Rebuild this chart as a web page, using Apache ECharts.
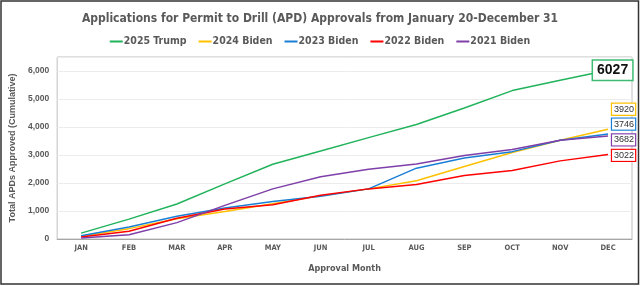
<!DOCTYPE html>
<html>
<head>
<meta charset="utf-8">
<script src="https://cdn.jsdelivr.net/npm/echarts@6/dist/echarts.min.js"></script>
<style>
  html, body { margin: 0; padding: 0; background: #fff; }
  #chart { width: 640px; height: 286px; }
</style>
</head>
<body>
<div id="chart"></div>
<script>
const months = ['JAN', 'FEB', 'MAR', 'APR', 'MAY', 'JUN', 'JUL', 'AUG', 'SEP', 'OCT', 'NOV', 'DEC']
const trump2025 = [210, 710, 1250, 1970, 2670, 3140, 3620, 4090, 4680, 5300, 5670, 6027]
const biden2024 = [95, 370, 720, 980, 1260, 1540, 1790, 2080, 2590, 3090, 3530, 3920]
const biden2023 = [120, 430, 810, 1110, 1340, 1530, 1790, 2530, 2890, 3120, 3530, 3746]
const biden2022 = [70, 280, 740, 1070, 1220, 1560, 1790, 1950, 2270, 2450, 2790, 3022]
const biden2021 = [35, 150, 585, 1200, 1790, 2220, 2490, 2680, 2980, 3200, 3530, 3682]

const condensed = "'DejaVu Sans Condensed', 'DejaVu Sans', sans-serif"
const arial = "'Liberation Sans', Arial, sans-serif"
const gray = '#595959'

// small boxed value at the end of each line
function endLabel(color, dy) {
  return {
    show: true,
    formatter: '{c}',
    distance: 4,
    offset: [0, dy],
    fontFamily: arial,
    fontSize: 9,
    lineHeight: 10,
    color: '#333',
    backgroundColor: '#fff',
    borderColor: color,
    borderWidth: 1.2,
    padding: [1, 1, 0, 2]
  }
}

function line(name, data, color, label) {
  return {
    name: name,
    type: 'line',
    data: data,
    symbol: 'none',
    lineStyle: { color: color, width: 1.5 },
    itemStyle: { color: color },
    endLabel: label
  }
}

const chart = echarts.init(document.getElementById('chart'))
chart.setOption({
  animation: false,
  title: {
    text: 'Applications for Permit to Drill (APD) Approvals from January 20-December 31',
    left: 'center',
    top: 8,
    textStyle: { fontFamily: condensed, fontSize: 12, fontWeight: 'bold', color: gray }
  },
  legend: {
    top: 31,
    left: 'center',
    icon: 'rect',
    itemWidth: 13,
    itemHeight: 2,
    itemGap: 12,
    textStyle: { fontFamily: condensed, fontSize: 10.5, fontWeight: 'bold', color: gray, padding: [0, 0, 0, -4] },
    data: ['2025 Trump', '2024 Biden', '2023 Biden', '2022 Biden', '2021 Biden']
  },
  grid: {
    left: 41,
    right: 8,
    top: 57,
    bottom: 47,
    show: true,
    borderColor: '#bfbfbf',
    borderWidth: 1
  },
  xAxis: {
    type: 'category',
    data: months,
    boundaryGap: true,
    axisTick: { show: false },
    axisLine: { lineStyle: { color: '#a6a6a6', width: 1 } },
    axisLabel: { fontFamily: condensed, fontSize: 7.5, fontWeight: 'bold', color: gray, margin: 5 },
    name: 'Approval Month',
    nameLocation: 'middle',
    nameGap: 25,
    nameTextStyle: { fontFamily: condensed, fontSize: 9, fontWeight: 'bold', color: gray }
  },
  yAxis: {
    type: 'value',
    min: 0,
    max: 6500,
    interval: 1000,
    axisLine: { show: false },
    axisTick: { show: false },
    splitLine: { lineStyle: { color: '#ececec', width: 1 } },
    axisLabel: { fontFamily: arial, fontSize: 8.5, fontWeight: 'bold', color: gray, margin: 8, showMaxLabel: false },
    name: 'Total APDs Approved (Cumulative)',
    nameLocation: 'middle',
    nameGap: 31,
    nameTextStyle: { fontFamily: arial, fontSize: 9, fontWeight: 'bold', color: gray }
  },
  series: [
    line('2025 Trump', trump2025, '#21b35b', {
      show: true,
      formatter: '{c}',
      distance: -15,
      fontFamily: arial,
      fontSize: 14,
      fontWeight: 'bold',
      color: '#111',
      backgroundColor: '#fff',
      borderColor: '#3dbb73',
      borderWidth: 1.5,
      padding: [3, 4, 2, 4]
    }),
    line('2024 Biden', biden2024, '#ffc000', endLabel('#ffc000', -20)),
    line('2023 Biden', biden2023, '#1a7fd4', endLabel('#1a7fd4', -10)),
    line('2022 Biden', biden2022, '#ff0000', endLabel('#ff0000', 1)),
    line('2021 Biden', biden2021, '#7e3fa8', endLabel('#7e3fa8', 4))
  ],
  graphic: [{
    type: 'rect',
    shape: { x: 1, y: 1, width: 637.5, height: 283 },
    style: { fill: 'none', stroke: '#333', lineWidth: 1.5 },
    silent: true
  }]
})
</script>
</body>
</html>
